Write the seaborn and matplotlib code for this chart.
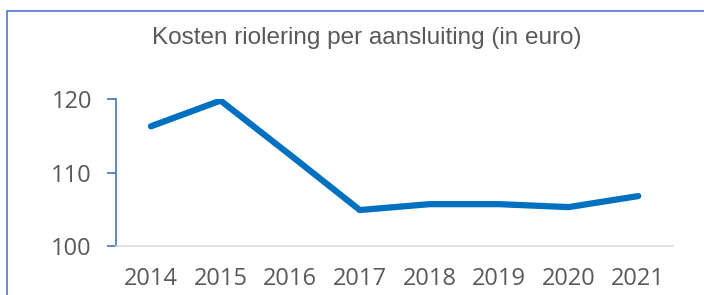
import matplotlib.pyplot as plt
import pandas as pd
import seaborn as sns
from matplotlib.patches import Rectangle

years = ["2014", "2015", "2016", "2017", "2018", "2019", "2020", "2021"]
costs = [116.3, 119.8, 112.4, 104.9, 105.7, 105.7, 105.3, 106.8]

df = pd.DataFrame({"jaar": years, "kosten": costs})

sns.set_theme(style="white")
plt.rcParams["font.family"] = ["Liberation Sans", "DejaVu Sans"]

fig = plt.figure(figsize=(7.04, 2.95), dpi=100)
ax = fig.add_axes([0.165, 0.166, 0.791, 0.498])

sns.lineplot(data=df, x="jaar", y="kosten", ax=ax, color="#0070C0",
             linewidth=4.5, sort=False)

ax.set_xlim(-0.5, len(years) - 0.5)
ax.set_ylim(100, 120)
ax.set_yticks([100, 110, 120])
ax.set_xlabel("")
ax.set_ylabel("")

for s in ["top", "right"]:
    ax.spines[s].set_visible(False)
ax.spines["left"].set_color("#4472C4")
ax.spines["left"].set_linewidth(1.2)
ax.spines["bottom"].set_color("#D9D9D9")
ax.spines["bottom"].set_linewidth(1.2)

ax.tick_params(axis="y", left=True, length=6.5, width=1.2, color="#4472C4",
               pad=11, labelsize=17, labelcolor="#595959")
ax.tick_params(axis="x", bottom=False, pad=9, labelsize=17,
               labelcolor="#595959")
for lab in ax.get_xticklabels() + ax.get_yticklabels():
    lab.set_fontfamily(["Open Sans", "DejaVu Sans"])

fig.text(0.521, 0.87, "Kosten riolering per aansluiting (in euro)",
         ha="center", va="center", fontsize=17.5, color="#595959")

# chart frame, cut off at the right and bottom like the source
fig.patches.append(Rectangle((7 / 704, -0.2), 2, 1.2 - 11 / 295,
                             transform=fig.transFigure, fill=False,
                             edgecolor="#5B84D6", linewidth=1.3))

fig.savefig("out.png", dpi=100)
